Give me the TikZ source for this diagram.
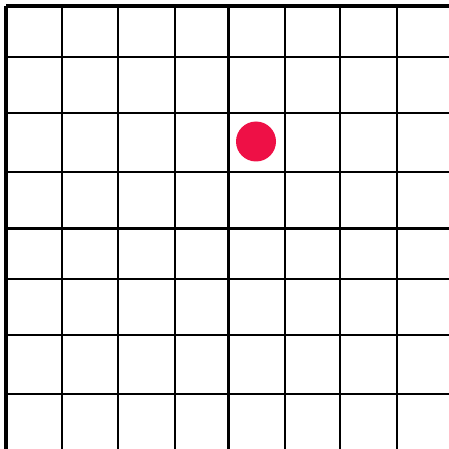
\documentclass[tikz,border=0pt]{standalone}
\usepackage{tikz}
\definecolor{dotred}{RGB}{238,16,70}

\begin{document}
\begin{tikzpicture}[x=1pt, y=-1pt]
    \tikzstyle{thin line}=[draw=black, line width=2pt]
    \tikzstyle{thick line}=[draw=black, line width=3.5pt]
    \tikzstyle{marker}=[circle, fill=dotred, minimum size=40pt, inner sep=0pt]
    \useasboundingbox (0,0) rectangle (449,449);
    \clip (0,0) rectangle (449,449);

    % columns and rows, the outer and the middle ones heavier
    \foreach \x in {62,118,175,285,340,397}
      \path[thin line] (\x,6) -- (\x,460);
    \foreach \y in {57,113,172,279,335,394,449.5}
      \path[thin line] (6,\y) -- (460,\y);
    \foreach \p in {6,228.5}{
      \path[thick line] (\p,6) -- (\p,460);
      \path[thick line] (6,\p) -- (460,\p);
    }

    \node[marker] (dot) at (256,141.5) {};
\end{tikzpicture}
\end{document}
